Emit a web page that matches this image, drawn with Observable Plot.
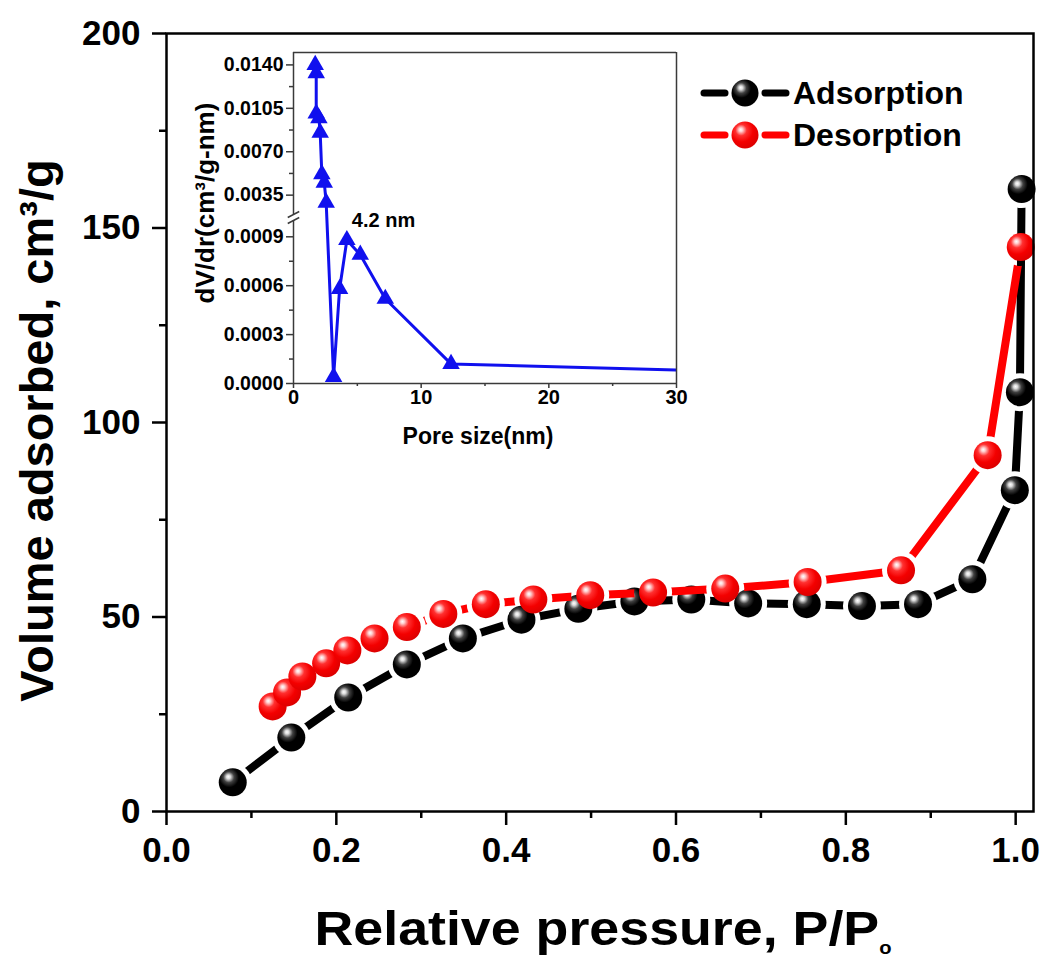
<!DOCTYPE html>
<html>
<head>
<meta charset="utf-8">
<script src="https://cdn.jsdelivr.net/npm/d3@7"></script>
<script src="https://cdn.jsdelivr.net/npm/@observablehq/plot@0.6"></script>
<style>
html, body { margin: 0; padding: 0; background: #fff; overflow: hidden; }
#wrap { position: relative; width: 1045px; height: 958px; font-family: "Liberation Sans", Arial, sans-serif; }
#main { position: absolute; left: 0; top: 0; }
#inset { position: absolute; left: 180px; top: 40px; }
#legend { position: absolute; left: 700px; top: 72px; font-weight: bold; font-size: 32px; color: #000; }
#legend .row { display: flex; align-items: center; height: 42px; }
#legend .row svg { margin-right: 0px; }
</style>
</head>
<body>
<svg width="0" height="0" style="position:absolute">
  <defs>
    <radialGradient id="ballBlack" cx="0.4" cy="0.36" r="0.7" fx="0.34" fy="0.3">
      <stop offset="0" stop-color="#ffffff"/>
      <stop offset="0.1" stop-color="#dcdcdc"/>
      <stop offset="0.28" stop-color="#404040"/>
      <stop offset="0.5" stop-color="#000000"/>
      <stop offset="1" stop-color="#000000"/>
    </radialGradient>
    <radialGradient id="ballRed" cx="0.4" cy="0.36" r="0.7" fx="0.34" fy="0.3">
      <stop offset="0" stop-color="#ffffff"/>
      <stop offset="0.1" stop-color="#ffd0d0"/>
      <stop offset="0.3" stop-color="#ff3030"/>
      <stop offset="0.6" stop-color="#f40000"/>
      <stop offset="1" stop-color="#d80000"/>
    </radialGradient>
  </defs>
</svg>
<div id="wrap">
  <div id="main"></div>
  <div id="inset"></div>
  <div id="legend"></div>
</div>
<script>
// ---------- Main isotherm data ----------
const adsP = [0.078, 0.147, 0.214, 0.283, 0.349, 0.418, 0.485, 0.551, 0.618, 0.685, 0.754, 0.819, 0.885, 0.949, 0.999, 1.005, 1.007];
const adsV = [7.5, 19.0, 29.3, 37.8, 44.5, 49.3, 52.1, 54.0, 54.5, 53.5, 53.3, 52.8, 53.3, 59.7, 82.6, 107.8, 160.0];
const desP = [0.125, 0.142, 0.160, 0.188, 0.213, 0.245, 0.283, 0.326, 0.376, 0.432, 0.499, 0.573, 0.658, 0.755, 0.865, 0.967, 1.006];
const desV = [27.0, 30.6, 34.7, 38.1, 41.4, 44.5, 47.4, 50.8, 53.3, 54.5, 55.6, 56.3, 57.3, 59.0, 62.0, 91.6, 145.1];
const seriesNames = ["Adsorption", "Desorption"];
const xMajor = [0, 0.2, 0.4, 0.6, 0.8, 1.0];
const xMinor = [0.1, 0.3, 0.5, 0.7, 0.9];
const yMajor = [0, 50, 100, 150, 200];
const yMinor = [25, 75, 125, 175];
const xTitle = "Relative pressure, P/P";
const xTitleSub = "o";
const yTitle = "Volume adsorbed, cm³/g";

// ---------- Inset (pore size distribution) data ----------
const poreSize = [1.70, 1.78, 1.78, 1.99, 2.09, 2.22, 2.41, 2.56, 3.14, 3.61, 4.18, 5.23, 7.19, 12.34, 30.0];
const dVdr = [0.01400, 0.01333, 0.01008, 0.00970, 0.00854, 0.00519, 0.00451, 0.00290, 0.00004, 0.00058, 0.00088, 0.00079, 0.00052, 0.00012, 0.000082];
const insetXMajor = [0, 10, 20, 30];
const insetXMinor = [5, 15, 25];
const insetYLow = [0, 0.0003, 0.0006, 0.0009];
const insetYHigh = [0.0035, 0.0070, 0.0105, 0.0140];
const insetYMinor = [0.00015, 0.00045, 0.00075, 0.00525, 0.00875, 0.01225];
const insetXTitle = "Pore size(nm)";
const insetYTitle = "dV/dr(cm³/g-nm)";
const peakLabel = "4.2 nm";
const peakSize = 4.18;

const FONT = '"Liberation Sans", Arial, sans-serif';
const RED = "#ff0000";
const BLUE = "#1010ee";

// ---------- Main chart ----------
const adsorption = adsP.map((p, i) => ({p, v: adsV[i]}));
const desorption = desP.map((p, i) => ({p, v: desV[i]}));

const main = Plot.plot({
  width: 1045, height: 958,
  marginTop: 33, marginBottom: 147, marginLeft: 166, marginRight: 12,
  x: {domain: [0, 1.021]},
  y: {domain: [0, 200]},
  style: {fontFamily: FONT, fontWeight: "bold", background: "transparent", color: "#000"},
  marks: [
    Plot.line(adsorption, {x: "p", y: "v", stroke: "#000", strokeWidth: 8}),
    Plot.dot(adsorption, {x: "p", y: "v", r: 14, fill: "#000"}),
    Plot.line(desorption, {x: "p", y: "v", stroke: RED, strokeWidth: 8}),
    Plot.dot(desorption, {x: "p", y: "v", r: 14, fill: RED}),
    Plot.frame({stroke: "#000", strokeWidth: 2.5}),
    Plot.axisX({ticks: xMajor, tickSize: 14, tickPadding: 12, tickFormat: d3.format(".1f"), fontSize: 35, strokeWidth: 2.5, label: null}),
    Plot.axisX({ticks: xMinor, tickSize: 7, tickFormat: () => "", strokeWidth: 2.5, label: null}),
    Plot.axisY({ticks: yMajor, tickSize: 14, tickPadding: 12, tickFormat: d3.format("d"), fontSize: 35, strokeWidth: 2.5, label: null}),
    Plot.axisY({ticks: yMinor, tickSize: 7, tickFormat: () => "", strokeWidth: 2.5, label: null}),
    Plot.text([yTitle], {text: d => d, frameAnchor: "left", textAnchor: "middle", rotate: -90, dx: -129, dy: 8, fontSize: 47, lineAnchor: "middle"}),
    Plot.text([xTitle], {text: d => d, frameAnchor: "bottom", textAnchor: "middle", dx: 3, dy: 99, fontSize: 48, lineAnchor: "top"})
  ]
});
document.getElementById("main").appendChild(main);

// gradient fills for balls, gaps of each line around its own balls, title styling
(function decorate(svg) {
  const W = 1045, H = 958;
  const s = d3.select(svg);
  const dots = svg.querySelectorAll('g[aria-label="dot"]');
  const lines = svg.querySelectorAll('g[aria-label="line"]');
  const grads = ["url(#ballBlack)", "url(#ballRed)"];
  let defs = s.select("defs");
  if (defs.empty()) defs = s.insert("defs", ":first-child");
  dots.forEach((g, i) => {
    g.setAttribute("fill", grads[i]);
    const m = defs.append("mask").attr("id", "gapMask" + i)
      .attr("maskUnits", "userSpaceOnUse")
      .attr("x", -50).attr("y", -50).attr("width", W + 100).attr("height", H + 100);
    m.append("rect").attr("x", -50).attr("y", -50).attr("width", W + 100).attr("height", H + 100).attr("fill", "white");
    g.querySelectorAll("circle").forEach(c => {
      m.append("circle").attr("cx", c.getAttribute("cx")).attr("cy", c.getAttribute("cy")).attr("r", 19).attr("fill", "black");
    });
    if (lines[i]) lines[i].setAttribute("mask", "url(#gapMask" + i + ")");
  });
  // x title: widened glyphs and subscript o
  s.selectAll("text").each(function() {
    if (this.textContent === xTitle) {
      const t = this.getAttribute("transform") || "";
      this.setAttribute("transform", t + " scale(1.12,1)");
      d3.select(this).append("tspan").attr("dy", 9).attr("font-size", 18).text(xTitleSub);
    }
  });
})(main);

// ---------- Inset ----------
const loMax = 0.001, loLen = 163, hiMin = 0.00194, hiMax = 0.015, hiStart = 169, hiLen = 162;
const brk = v => v <= (loMax + hiMin) / 2 ? v / loMax * loLen : hiStart + (v - hiMin) / (hiMax - hiMin) * hiLen;
const uTop = brk(hiMax);
const insetData = poreSize.map((s, i) => ({s, v: dVdr[i], u: brk(dVdr[i])}));
const yTickVals = [...insetYLow, ...insetYHigh];
const yTickLabel = new Map(yTickVals.map(v => [brk(v), d3.format(".4f")(v)]));
const peak = insetData.filter(d => d.s === peakSize);
const FR = "#3a3a3a";

const inset = Plot.plot({
  width: 520, height: 420,
  marginTop: 12, marginBottom: 77, marginLeft: 113, marginRight: 24,
  x: {domain: [0, 30]},
  y: {domain: [0, uTop]},
  style: {fontFamily: FONT, fontWeight: "bold", background: "transparent", color: "#000"},
  marks: [
    Plot.line(insetData, {x: "s", y: "u", stroke: BLUE, strokeWidth: 3, clip: true}),
    Plot.dot(insetData.filter(d => d.s < 30), {x: "s", y: "u", symbol: "triangle", r: 6.5, fill: BLUE}),
    Plot.ruleY([0, uTop], {stroke: FR, strokeWidth: 1.5}),
    Plot.ruleX([30], {stroke: FR, strokeWidth: 1.5}),
    Plot.ruleX([0], {y1: 0, y2: loLen, stroke: FR, strokeWidth: 1.5}),
    Plot.ruleX([0], {y1: hiStart, y2: uTop, stroke: FR, strokeWidth: 1.5}),
    Plot.link([loLen, hiStart], {x1: -0.45, x2: 0.45, y1: d => d - 3, y2: d => d + 3, stroke: FR, strokeWidth: 1.5}),
    Plot.axisX({ticks: insetXMajor, tickSize: 5, tickPadding: 1, fontSize: 20, stroke: FR, strokeWidth: 1.5, label: null}),
    Plot.axisX({ticks: insetXMinor, tickSize: 3, tickFormat: () => "", stroke: FR, strokeWidth: 1.5, label: null}),
    Plot.axisY({ticks: yTickVals.map(brk), tickSize: 7, tickPadding: 3, tickFormat: u => yTickLabel.get(u), fontSize: 19.5, stroke: FR, strokeWidth: 1.5, label: null}),
    Plot.axisY({ticks: insetYMinor.map(brk), tickSize: 4, tickFormat: () => "", stroke: FR, strokeWidth: 1.5, label: null}),
    Plot.text(peak, {x: "s", y: "u", text: () => peakLabel, dx: 5, dy: -19, textAnchor: "start", fontSize: 20}),
    Plot.text([insetXTitle], {text: d => d, frameAnchor: "bottom", textAnchor: "middle", dx: -7, dy: 44, fontSize: 23, lineAnchor: "top"}),
    Plot.text([insetYTitle], {text: d => d, frameAnchor: "left", textAnchor: "middle", rotate: -90, dx: -88, dy: -15, fontSize: 26, lineAnchor: "middle"})
  ]
});
document.getElementById("inset").appendChild(inset);

// ---------- Legend ----------
const legendFills = ["url(#ballBlack)", "url(#ballRed)"];
const legendStrokes = ["#000", RED];
document.getElementById("legend").innerHTML = seriesNames.map((name, i) =>
  `<div class="row"><svg width="93" height="42">
     <line x1="4" y1="21" x2="25" y2="21" stroke="${legendStrokes[i]}" stroke-width="7" stroke-linecap="round"/>
     <line x1="65" y1="21" x2="86" y2="21" stroke="${legendStrokes[i]}" stroke-width="7" stroke-linecap="round"/>
     <circle cx="45" cy="21" r="13.5" fill="${legendFills[i]}"/>
   </svg><span>${name}</span></div>`).join("");
</script>
</body>
</html>
